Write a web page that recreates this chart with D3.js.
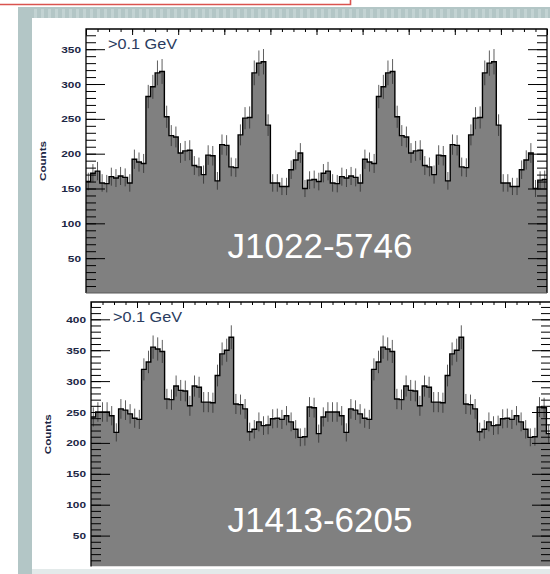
<!DOCTYPE html>
<html>
<head>
<meta charset="utf-8">
<script src="https://cdn.jsdelivr.net/npm/d3@7/dist/d3.min.js"></script>
<style>
  html, body { margin: 0; padding: 0; background: #fff; }
  svg { display: block; }
</style>
</head>
<body>
<div id="draw_svg"></div>
<script>
// light curve data, one pulse rotation (50 phase bins), drawn twice
const phaseBins = 50;
const j1022Counts = [
  160, 172, 175, 158, 157, 167, 165, 168, 166, 158,
  192, 188, 186, 282, 296, 316, 318, 253, 226, 224,
  201, 204, 205, 183, 181, 170, 198, 197, 161, 213,
  212, 181, 180, 227, 251, 252, 316, 330, 332, 241,
  158, 158, 153, 153, 177, 191, 201, 150, 162, 163
];
const j1413Counts = [
  242, 250, 250, 250, 244, 217, 255, 253, 247, 240,
  238, 319, 331, 355, 352, 348, 271, 270, 292, 285,
  284, 260, 292, 290, 266, 266, 265, 309, 344, 350,
  371, 263, 262, 255, 218, 222, 234, 228, 229, 239,
  240, 238, 244, 234, 222, 209, 210, 258, 257, 215
];
const j1022Ticks = [50, 100, 150, 200, 250, 300, 350];
const j1413Ticks = [50, 100, 150, 200, 250, 300, 350, 400];
const pulsarNames = ['J1022-5746', 'J1413-6205'];
const energyCut = '>0.1 GeV';
const yTitle = 'Counts';

const W = 550, H = 574;

// panel boxes (pixels)
const panels = [
  {name: pulsarNames[0], counts: j1022Counts, ticks: j1022Ticks, yMax: 379,
   left: 86, right: 547, top: 29, bottom: 293, base: true},
  {name: pulsarNames[1], counts: j1413Counts, ticks: j1413Ticks, yMax: 428,
   left: 91, right: 551, top: 302, bottom: 566.5, base: false}
];

/**
 * slide background: teal frame, white card, red box edge
 */
drawFrame = (svg) => {
  svg.append('rect')
    .attr('x', 18).attr('y', 7)
    .attr('width', W - 18).attr('height', H - 7)
    .attr('fill', '#b3c6c6');

  svg.append('g').selectAll('rect')
    .data(d3.range(34, W, 7))
    .enter()
    .append('rect')
    .attr('x', d => d).attr('y', 9)
    .attr('width', 3).attr('height', 9)
    .attr('fill', '#c3d3d3');

  svg.append('rect')
    .attr('x', 32).attr('y', 18)
    .attr('width', W - 32).attr('height', 551)
    .attr('fill', '#fff');

  svg.append('rect')
    .attr('x', 32).attr('y', 569)
    .attr('width', W - 32).attr('height', 5)
    .attr('fill', '#e3eaea');

  svg.append('path')
    .attr('d', 'M0,4.5H350.5V0')
    .attr('fill', 'none')
    .attr('stroke', '#d9534f')
    .attr('stroke-width', 1.6);
}

/**
 * one histogram panel
 */
drawPanel = (svg, p, idx) => {
  const x = d3.scaleLinear().domain([0, 2]).range([p.left, p.right]);
  const y = d3.scaleLinear().domain([0, p.yMax]).range([p.bottom, p.top]);

  const bins = [];
  for (let turn = 0; turn < 2; turn++)
    p.counts.forEach((c, i) => bins.push({
      x0: turn + i / phaseBins,
      x1: turn + (i + 1) / phaseBins,
      c
    }));
  const pts = bins.flatMap(b => [[b.x0, b.c], [b.x1, b.c]]);

  const clipId = 'clip' + idx;
  svg.append('clipPath').attr('id', clipId)
    .append('rect')
    .attr('x', p.left).attr('y', p.top)
    .attr('width', p.right - p.left).attr('height', p.bottom - p.top);

  const g = svg.append('g');
  const plot = g.append('g').attr('clip-path', `url(#${clipId})`);

  plot.append('path')
    .datum(pts)
    .attr('d', d3.area().x(d => x(d[0])).y0(y(0)).y1(d => y(d[1])))
    .attr('fill', '#808080');

  // poisson error bars
  plot.append('g').selectAll('line')
    .data(bins)
    .enter()
    .append('line')
    .attr('x1', d => x((d.x0 + d.x1) / 2))
    .attr('x2', d => x((d.x0 + d.x1) / 2))
    .attr('y1', d => y(d.c - Math.sqrt(d.c)))
    .attr('y2', d => y(d.c + Math.sqrt(d.c)))
    .attr('stroke', '#2a2a2a')
    .attr('stroke-opacity', 0.75)
    .attr('stroke-width', 1);

  plot.append('path')
    .datum(pts)
    .attr('d', d3.line().x(d => x(d[0])).y(d => y(d[1])))
    .attr('fill', 'none')
    .attr('stroke', '#000')
    .attr('stroke-width', 1.4);

  // y axis, ticks pointing inward, labels outside
  const yMinor = d3.range(10, p.yMax, 10);
  g.append('g')
    .attr('transform', `translate(${p.left},0)`)
    .call(d3.axisLeft(y).tickValues(yMinor).tickSizeInner(-10).tickSizeOuter(0).tickFormat(''))
    .call(a => a.select('.domain').remove());
  const yAx = g.append('g')
    .attr('transform', `translate(${p.left},0)`)
    .call(d3.axisLeft(y).tickValues(p.ticks).tickSizeInner(-19).tickSizeOuter(0).tickPadding(5).tickFormat(d3.format('d')))
    .call(a => a.select('.domain').remove());
  yAx.selectAll('text')
    .attr('font-family', 'Liberation Sans, Arial, sans-serif')
    .attr('font-size', 9.5)
    .attr('font-weight', 'bold')
    .attr('fill', '#1d2745')
    .attr('textLength', d => String(d).length * 6.6)
    .attr('lengthAdjust', 'spacingAndGlyphs');

  // right axis
  g.append('g')
    .attr('transform', `translate(${p.right},0)`)
    .call(d3.axisLeft(y).tickValues(yMinor).tickSizeInner(10).tickSizeOuter(0).tickFormat(''))
    .call(a => a.select('.domain').remove());
  g.append('g')
    .attr('transform', `translate(${p.right},0)`)
    .call(d3.axisLeft(y).tickValues(p.ticks).tickSizeInner(19).tickSizeOuter(0).tickFormat(''))
    .call(a => a.select('.domain').remove());

  // top axis, ticks pointing down
  g.append('g')
    .attr('transform', `translate(0,${p.top})`)
    .call(d3.axisBottom(x).tickValues(d3.range(0, 2.001, 0.05)).tickSizeInner(3).tickSizeOuter(0).tickFormat(''))
    .call(a => a.select('.domain').remove());
  g.append('g')
    .attr('transform', `translate(0,${p.top})`)
    .call(d3.axisBottom(x).tickValues(d3.range(0, 2.001, 0.2)).tickSizeInner(6).tickSizeOuter(0).tickFormat(''))
    .call(a => a.select('.domain').remove());

  // frame
  g.append('path')
    .attr('d', `M${p.left},${p.bottom}V${p.top}H${p.right}V${p.bottom}`)
    .attr('fill', 'none')
    .attr('stroke', '#000')
    .attr('stroke-width', 1.3);
  if (p.base)
    g.append('line')
      .attr('x1', p.left).attr('x2', p.right)
      .attr('y1', p.bottom).attr('y2', p.bottom)
      .attr('stroke', '#5a5a5a');

  g.append('text')
    .attr('transform', `translate(${p.left - 40},${(p.top + p.bottom) / 2}) rotate(-90)`)
    .attr('text-anchor', 'middle')
    .attr('font-family', 'Liberation Sans, Arial, sans-serif')
    .attr('font-size', 9.5)
    .attr('font-weight', 'bold')
    .attr('fill', '#1d2745')
    .attr('textLength', 40)
    .attr('lengthAdjust', 'spacingAndGlyphs')
    .text(yTitle);

  g.append('text')
    .attr('x', p.left + 22)
    .attr('y', p.top + 20)
    .attr('font-family', 'Liberation Sans, Arial, sans-serif')
    .attr('font-size', 14)
    .attr('fill', '#2a3b5e')
    .attr('textLength', 69)
    .attr('lengthAdjust', 'spacingAndGlyphs')
    .text(energyCut);

  g.append('text')
    .attr('x', 320)
    .attr('y', p.bottom - 35)
    .attr('text-anchor', 'middle')
    .attr('font-family', 'Liberation Sans, Arial, sans-serif')
    .attr('font-size', 35)
    .attr('fill', '#fff')
    .text(p.name);
}

pageInit = () => {
  const svg = d3.select('#draw_svg')
    .append('svg')
    .attr('width', W)
    .attr('height', H);

  drawFrame(svg);
  panels.forEach((p, i) => drawPanel(svg, p, i));
}

window.onload = () => {
  pageInit();
}
</script>
</body>
</html>
